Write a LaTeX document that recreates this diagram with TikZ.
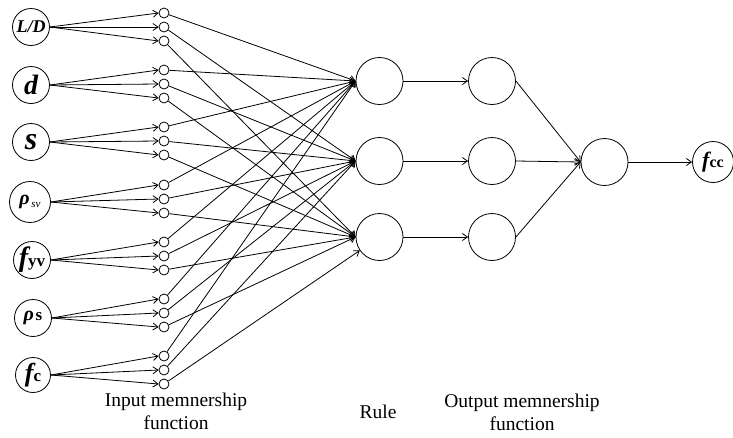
\documentclass[tikz,border=0pt]{standalone}
\usepackage{fontspec}
\setmainfont{Liberation Serif}
\usetikzlibrary{arrows.meta}
\begin{document}
\begin{tikzpicture}[x=1pt,y=-1pt,line width=0.8pt,
  innode/.style={draw,circle,minimum size=37pt,inner sep=0pt},
  mfnode/.style={draw,circle,minimum size=10pt,inner sep=0pt},
  bignode/.style={draw,circle,minimum size=47pt,inner sep=0pt},
  arr/.style={-{Straight Barb[length=5pt,width=7pt,line width=0.8pt]}},
  caption/.style={align=center,font=\fontsize{19.5}{23}\selectfont}]
\useasboundingbox (0,0) rectangle (733,437);

% input variables
\node[innode] (i1) at (31,27)  {\fontsize{18}{18}\selectfont\bfseries\itshape L/D};
\node[innode] (i2) at (31,85)  {\fontsize{28}{28}\selectfont\bfseries\itshape d};
\node[innode] (i3) at (31,142) {\fontsize{32}{32}\selectfont\bfseries\itshape s};
\node[innode,minimum size=41pt] (i4) at (30,202)
  {{\fontsize{20}{20}\selectfont\bfseries\itshape ρ}\,\raisebox{-3pt}{\fontsize{11}{11}\selectfont\itshape sv}};
\node[innode] (i5) at (32,260)
  {{\fontsize{28}{28}\selectfont\bfseries\itshape f}{\fontsize{17}{17}\selectfont\bfseries yv}};
\node[innode] (i6) at (33,318)
  {{\fontsize{20}{20}\selectfont\bfseries\itshape ρ}\,{\fontsize{17}{17}\selectfont\bfseries s}};
\node[innode,minimum size=35pt] (i7) at (33,375)
  {{\fontsize{26}{26}\selectfont\bfseries\itshape f}{\fontsize{17}{17}\selectfont\bfseries c}};

% input membership functions, three per input
\foreach \i/\y in {1/27,2/84,3/141,4/199,5/256,6/313,7/370}{
  \foreach \k/\d in {1/-14,2/0,3/14}{
    \node[mfnode] (m\i-\k) at (164,\y+\d) {};
    \draw[arr] (i\i.east) -- (m\i-\k.west);
  }
}

% rule layer, output membership layer, aggregation and output
\foreach \k/\y in {1/81,2/161,3/237}{
  \node[bignode] (r\k) at (379.5,\y) {};
  \node[bignode] (o\k) at (492,\y) {};
}
\node[bignode] (agg) at (604.5,162) {};
\node[draw,circle,minimum size=41pt,inner sep=0pt] (out) at (713,162)
  {{\fontsize{22}{22}\selectfont\bfseries\itshape f}{\fontsize{16}{16}\selectfont\bfseries cc}};

% membership functions feed the rules
\foreach \i in {1,...,7}{
  \foreach \k in {1,2,3}{
    \ifnum\i\k=73\relax
      \draw[arr] (m\i-\k) -- (r\k);
    \else
      \draw[arr] (m\i-\k) -- (r\k.west);
    \fi
  }
}

\foreach \k in {1,2,3}{
  \draw[arr] (r\k) -- (o\k);
  \draw[arr] (o\k.east) -- (agg.west);
}
\draw[arr] (agg) -- (out);

% layer captions
\node[caption] (c1) at (176,411.5) {Input memnership\\function};
\node[caption] (c2) at (378,412)   {Rule};
\node[caption] (c3) at (522,412.5) {Output memnership\\function};
\end{tikzpicture}
\end{document}
